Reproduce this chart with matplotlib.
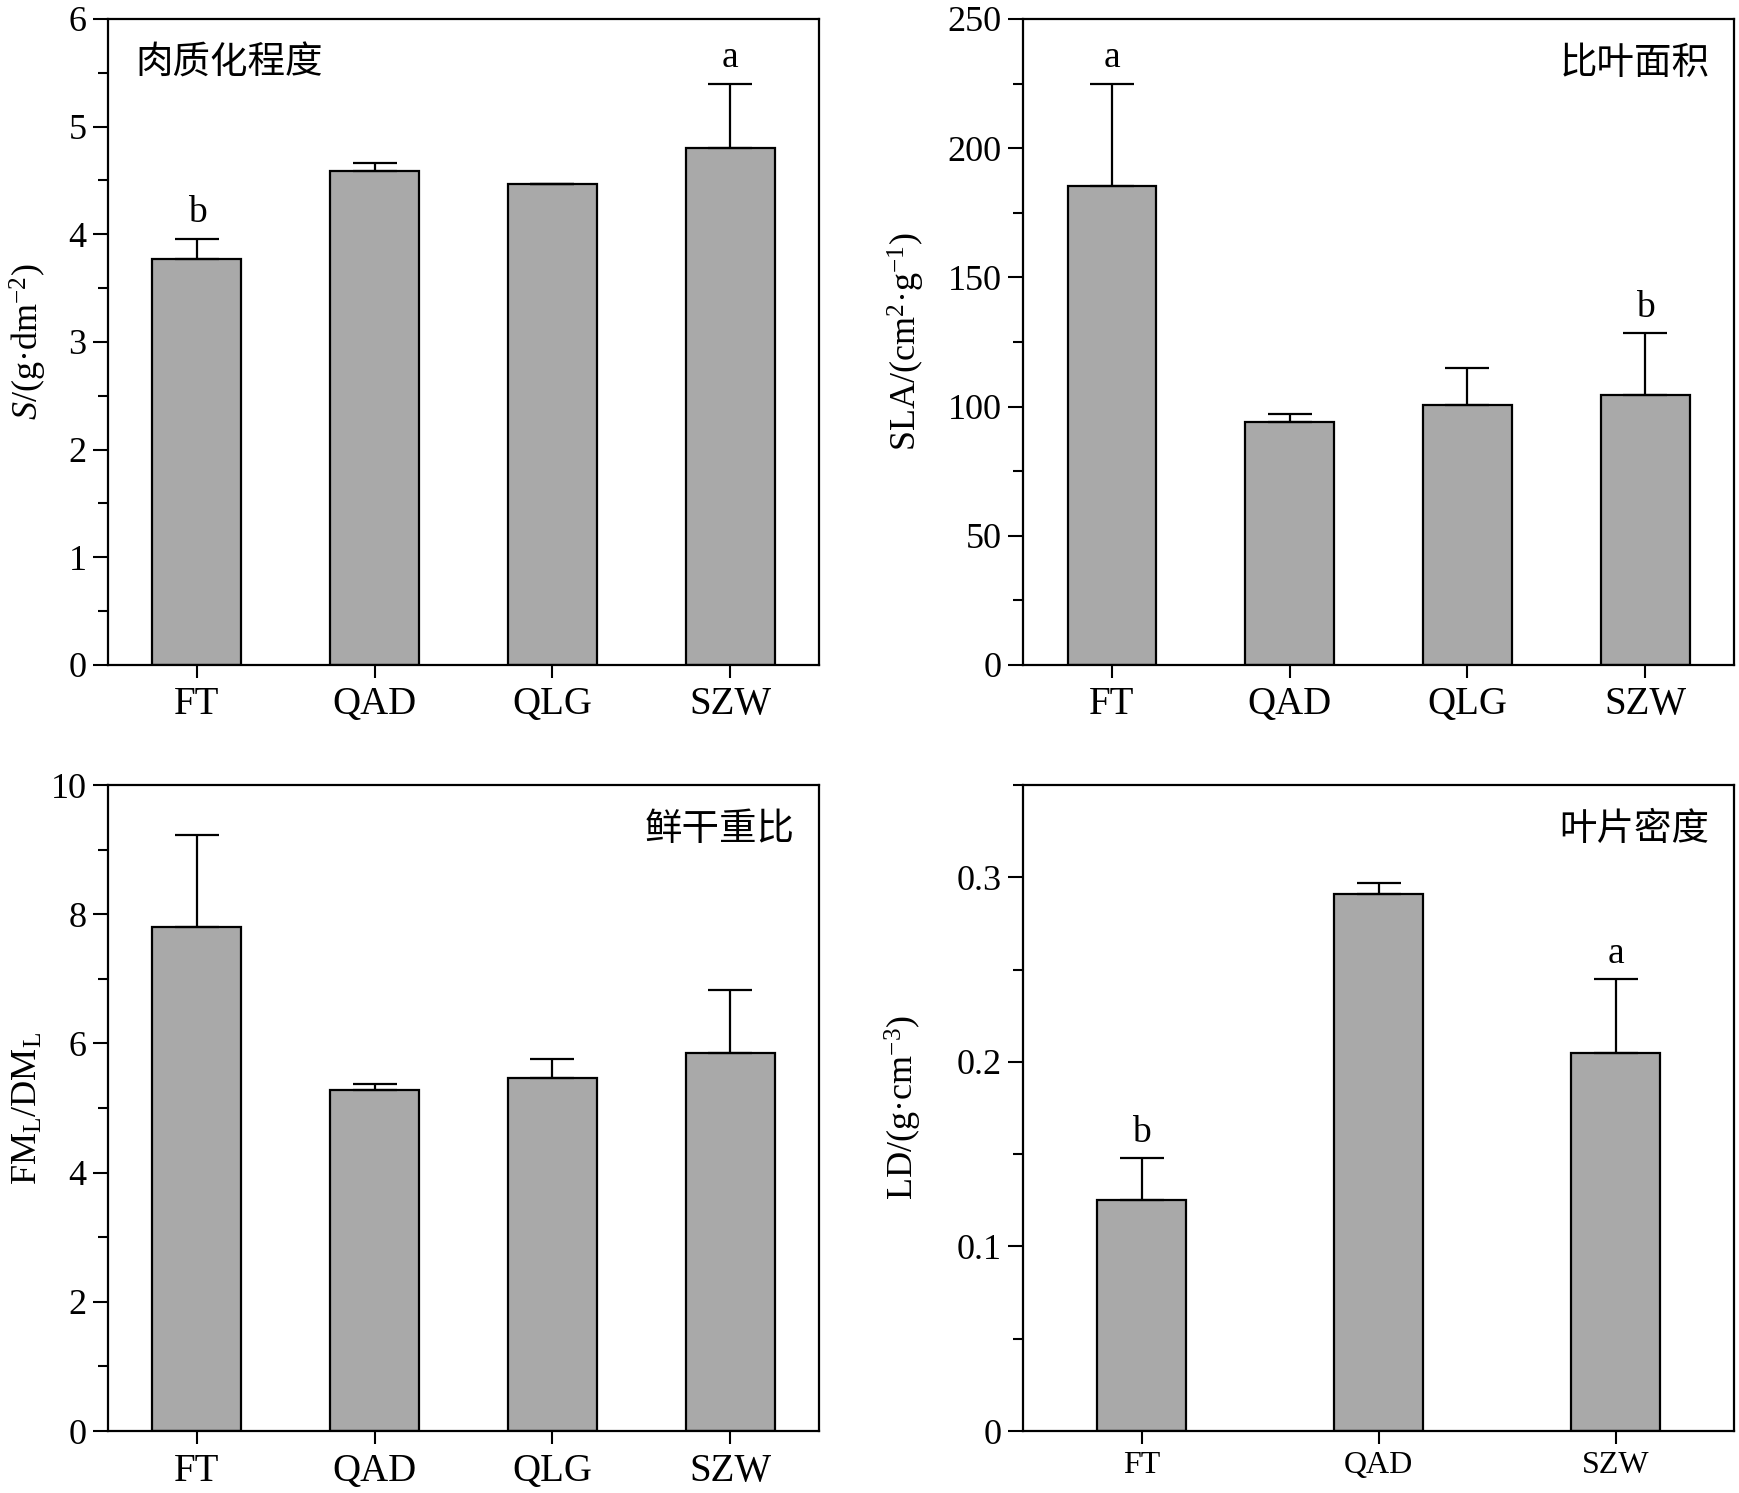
import numpy as np
import matplotlib
matplotlib.use("Agg")
import matplotlib.pyplot as plt
from matplotlib.ticker import MultipleLocator, FuncFormatter

# --- fonts ---
plt.rcParams["font.family"] = ["Liberation Serif", "Noto Sans CJK SC"]
plt.rcParams["mathtext.fontset"] = "custom"
plt.rcParams["mathtext.rm"] = "Liberation Serif"
plt.rcParams["mathtext.it"] = "Liberation Serif:italic"

# --- data ---
sites4 = ["FT", "QAD", "QLG", "SZW"]
sites3 = ["FT", "QAD", "SZW"]

s_mean = [3.77, 4.59, 4.47, 4.80]
s_err = [0.19, 0.07, 0.0, 0.60]
s_letters = ["b", "", "", "a"]

sla_mean = [185.5, 94.0, 100.5, 104.5]
sla_err = [39.5, 3.0, 14.5, 24.0]
sla_letters = ["a", "", "", "b"]

fmdm_mean = [7.80, 5.28, 5.46, 5.86]
fmdm_err = [1.42, 0.09, 0.30, 0.96]
fmdm_letters = ["", "", "", ""]

ld_mean = [0.125, 0.291, 0.205]
ld_err = [0.023, 0.006, 0.040]
ld_letters = ["b", "", "a"]

panels = [
    dict(cats=sites4, mean=s_mean, err=s_err, letters=s_letters, ylim=(0, 6), major=1, minor=0.5,
         ylabel=r"$S$/(g·dm$^{-2}$)", title="肉质化程度", title_left=True, width=0.5, xfs=28, xpad=6, lpad=14),
    dict(cats=sites4, mean=sla_mean, err=sla_err, letters=sla_letters, ylim=(0, 250), major=50, minor=25,
         ylabel=r"SLA/(cm$^{2}$·g$^{-1}$)", title="比叶面积", title_left=False, width=0.5, xfs=28, xpad=6, lpad=15),
    dict(cats=sites4, mean=fmdm_mean, err=fmdm_err, letters=fmdm_letters, ylim=(0, 10), major=2, minor=1,
         ylabel=r"FM$_\mathregular{L}$/DM$_\mathregular{L}$", title="鲜干重比", title_left=False, width=0.5, xfs=28, xpad=6, lpad=4),
    dict(cats=sites3, mean=ld_mean, err=ld_err, letters=ld_letters, ylim=(0, 0.35), major=0.1, minor=0.05,
         ylabel=r"LD/(g·cm$^{-3}$)", title="叶片密度", title_left=False, width=0.375, xfs=23, xpad=5, lpad=23),
]

fig, axes = plt.subplots(2, 2, figsize=(17.4, 14.93), dpi=100)
fig.subplots_adjust(left=0.0621, right=0.9966, top=0.9873, bottom=0.0415, wspace=0.287, hspace=0.186)

for ax, p in zip(axes.flat, panels):
    x = np.arange(len(p["cats"]))
    ax.bar(x, p["mean"], width=p["width"], color="#a9a9a9", edgecolor="black", linewidth=1.6, zorder=2)
    ax.errorbar(x, p["mean"], yerr=[np.zeros(len(x)), p["err"]], fmt="none", ecolor="black",
                elinewidth=1.6, capsize=16, capthick=1.6, zorder=3)
    for xi, m, e, lab in zip(x, p["mean"], p["err"], p["letters"]):
        if lab:
            ax.annotate(lab, (xi, m + e), xytext=(0, 6), textcoords="offset points",
                        ha="center", va="bottom", fontsize=27)
    ax.set_xlim(-0.5, len(x) - 0.5)
    ax.set_ylim(*p["ylim"])
    ax.set_xticks(x)
    ax.set_xticklabels(p["cats"])
    ax.yaxis.set_major_locator(MultipleLocator(p["major"]))
    ax.yaxis.set_minor_locator(MultipleLocator(p["minor"]))
    ax.yaxis.set_major_formatter(FuncFormatter(lambda v, pos: f"{v:g}"))
    ax.tick_params(axis="y", which="major", direction="out", length=10.5, width=1.5, labelsize=26, pad=5)
    ax.tick_params(axis="x", which="major", direction="out", length=9.5, width=1.5,
                   labelsize=p["xfs"], pad=p["xpad"])
    ax.tick_params(axis="y", which="minor", direction="out", length=7, width=1.5)
    for sp in ax.spines.values():
        sp.set_linewidth(1.6)
    ax.set_ylabel(p["ylabel"], fontsize=26, labelpad=p["lpad"])
    if p["title_left"]:
        ax.text(0.038, 0.931, p["title"], transform=ax.transAxes, ha="left", va="center",
                fontsize=27, fontweight="medium", family=["Noto Sans CJK SC"])
    else:
        ax.text(0.965, 0.931, p["title"], transform=ax.transAxes, ha="right", va="center",
                fontsize=27, fontweight="medium", family=["Noto Sans CJK SC"])

fig.savefig("out.png", dpi=100)
